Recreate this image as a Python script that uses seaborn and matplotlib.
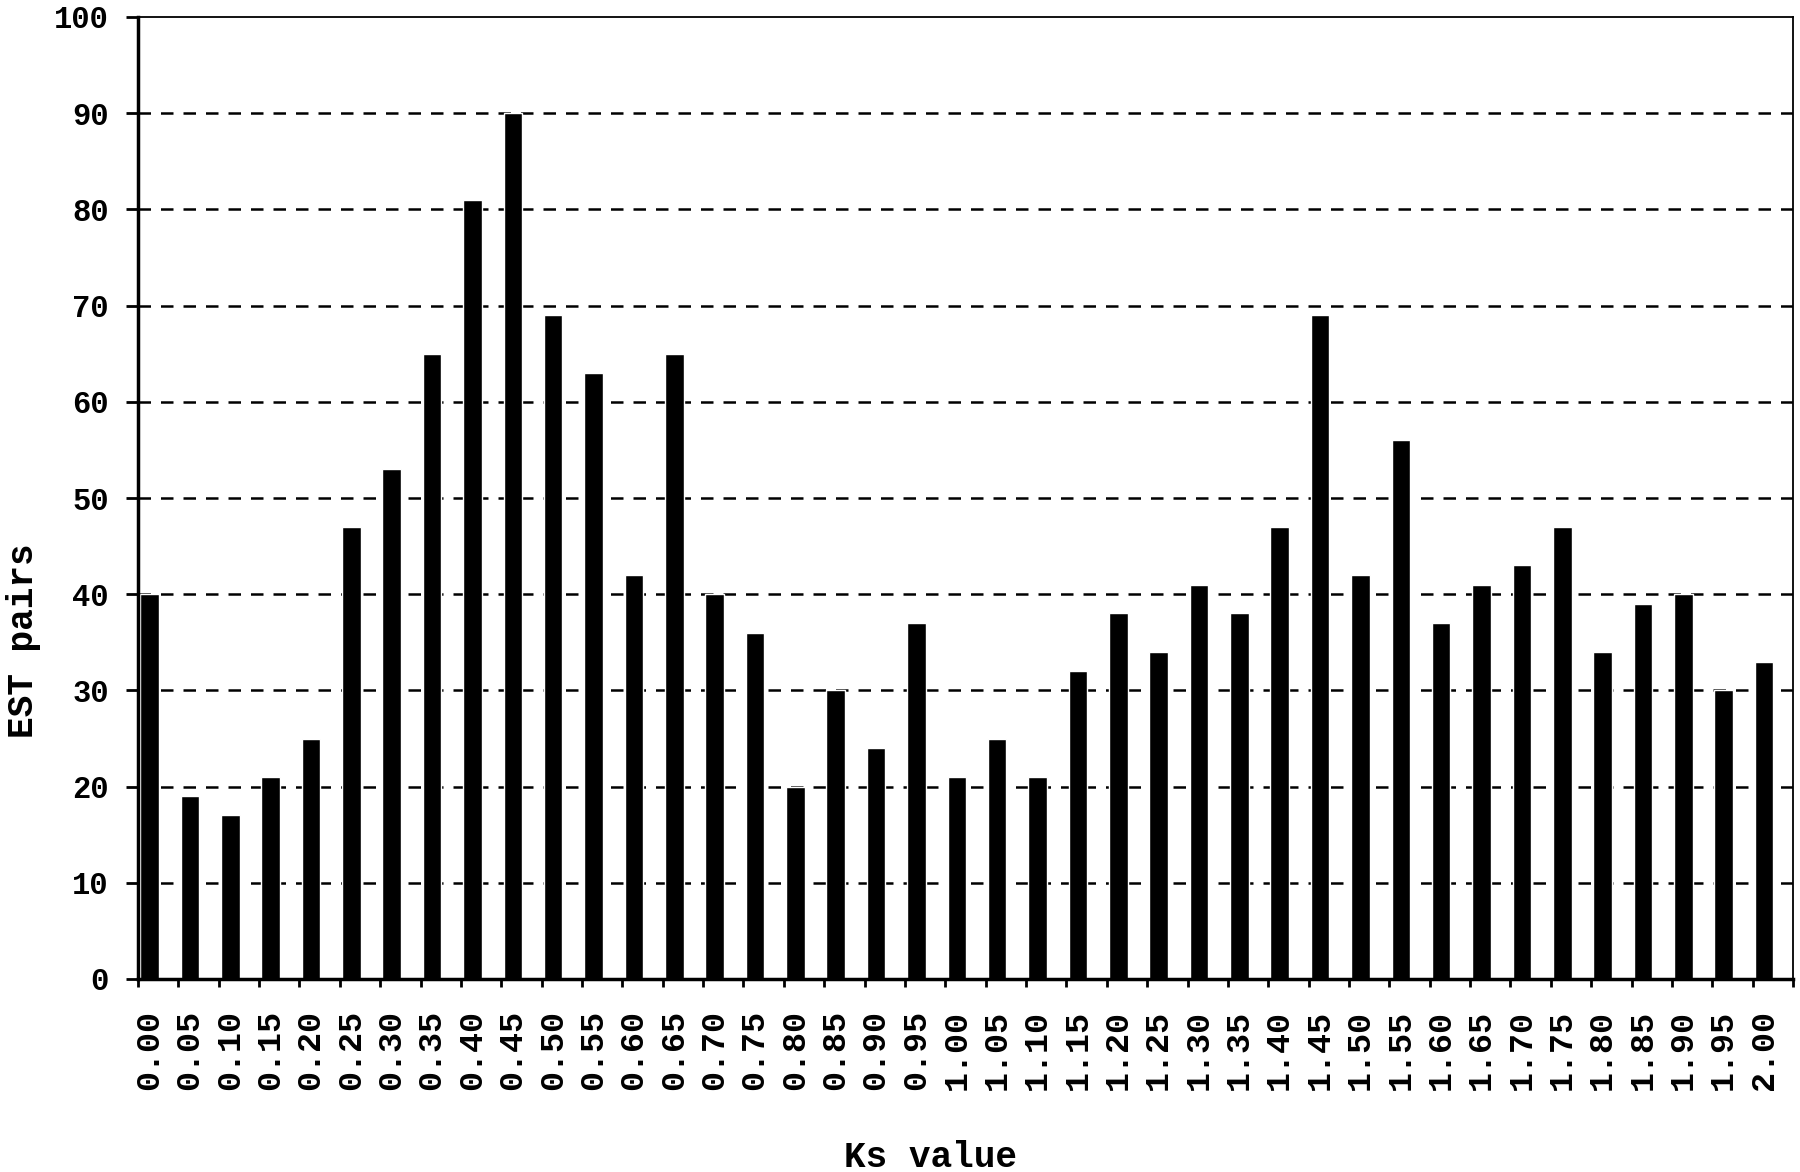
import numpy as np
import pandas as pd
import seaborn as sns
import matplotlib.pyplot as plt

# Dados
ks_labels = ['0.00', '0.05', '0.10', '0.15', '0.20', '0.25', '0.30', '0.35', '0.40', '0.45',
             '0.50', '0.55', '0.60', '0.65', '0.70', '0.75', '0.80', '0.85', '0.90', '0.95',
             '1.00', '1.05', '1.10', '1.15', '1.20', '1.25', '1.30', '1.35', '1.40', '1.45',
             '1.50', '1.55', '1.60', '1.65', '1.70', '1.75', '1.80', '1.85', '1.90', '1.95',
             '2.00']
est_pairs = [40, 19, 17, 21, 25, 47, 53, 65, 81, 90,
             69, 63, 42, 65, 40, 36, 20, 30, 24, 37,
             21, 25, 21, 32, 38, 34, 41, 38, 47, 69,
             42, 56, 37, 41, 43, 47, 34, 39, 40, 30,
             33]
y_ticks = [0, 10, 20, 30, 40, 50, 60, 70, 80, 90, 100]

df = pd.DataFrame({'Ks': ks_labels, 'EST': est_pairs})

sns.set_style('white')
plt.rcParams['font.family'] = ['Liberation Mono', 'DejaVu Sans Mono']
plt.rcParams['text.color'] = 'black'
plt.rcParams['axes.labelcolor'] = 'black'
plt.rcParams['xtick.color'] = 'black'
plt.rcParams['ytick.color'] = 'black'

fig = plt.figure(figsize=(18, 11.72), dpi=100)
ax = fig.add_axes([138 / 1800, 1 - 979 / 1172, (1793 - 138) / 1800, (979 - 17) / 1172])

sns.barplot(data=df, x='Ks', y='EST', color='black', saturation=1, width=0.46, ax=ax, zorder=3)

# grade tracejada
for v in y_ticks[1:-1]:
    ax.axhline(v, color='black', lw=1.8, ls=(0, (5, 4)), zorder=1)

n = len(ks_labels)
ax.set_xlim(-0.285, n - 0.285)
ax.set_ylim(0, 100)
ax.set_yticks(y_ticks)
ax.set_yticklabels([str(v) for v in y_ticks], fontsize=22, fontweight='bold')
ax.set_xticks(range(n))
ax.set_xticklabels(ks_labels, rotation=90, fontsize=24, fontweight='bold')
ax.set_xticks(np.arange(n + 1) - 0.285, minor=True)

ax.tick_params(axis='x', which='major', length=0, pad=22)
ax.tick_params(axis='x', which='minor', direction='out', length=6, width=2, color='black', bottom=True)
ax.tick_params(axis='y', direction='out', length=9, width=2, color='black', pad=12, left=True)

for s in ['left', 'bottom']:
    ax.spines[s].set_linewidth(2.5)
for s in ['top', 'right']:
    ax.spines[s].set_linewidth(1.3)
for s in ax.spines.values():
    s.set_color('black')
    s.set_zorder(4)

ax.set_xlabel('Ks value', fontsize=26, fontweight='bold')
ax.set_ylabel('EST pairs', fontsize=26, fontweight='bold')
ax.xaxis.set_label_coords(0.4786, -0.186)
ax.yaxis.set_label_coords(-0.069, 0.352)
ax.xaxis.label.set_va('center')
ax.yaxis.label.set_va('center')

fig.savefig('out.png', dpi=100, facecolor='white')
